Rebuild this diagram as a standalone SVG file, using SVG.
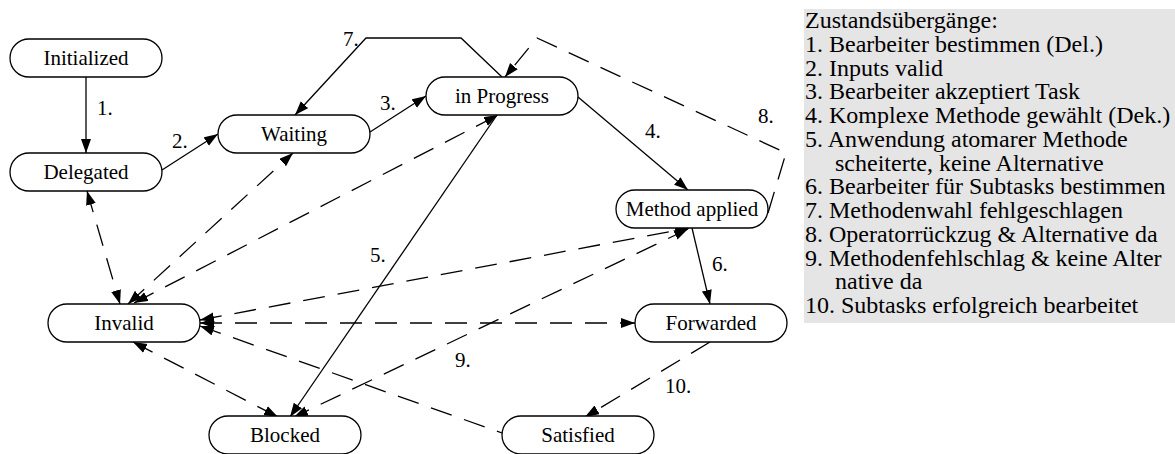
<svg xmlns="http://www.w3.org/2000/svg" width="1175" height="454" viewBox="0 0 1175 454">
  <style>
    text { font-family: 'Liberation Serif', 'DejaVu Serif', serif; fill: #000000; }
    .node rect { fill: #ffffff; stroke: #000000; stroke-width: 1.3; }
    .node text { font-size: 21px; text-anchor: middle; }
    .edge { fill: none; stroke: #000000; stroke-width: 1.3; }
    .solid { marker-end: url(#arrow); }
    .dashed { stroke-dasharray: 22 13; }
    .elabel { font-size: 21px; }
    .legend text { font-size: 24px; }
  </style>
  <defs>
    <marker id="arrow" markerUnits="userSpaceOnUse" markerWidth="15" markerHeight="11" refX="14" refY="5" orient="auto-start-reverse">
      <path d="M0,0 L14,5 L0,10 z" fill="#000000"/>
    </marker>
  </defs>

  <rect x="0" y="0" width="1175" height="454" fill="#ffffff"/>

  <!-- transitions -->
  <g id="connectors">
    <!-- solid transitions -->
    <path class="edge solid" d="M86,77 L86,153"/>
    <path class="edge solid" d="M162,170 L218,134"/>
    <path class="edge solid" d="M370,132 L426,96"/>
    <path class="edge solid" d="M502,77 L461,38 L366,38 L295,115"/>
    <path class="edge solid" d="M578,97 L688,190"/>
    <path class="edge solid" d="M692,228 L710,304"/>
    <path class="edge solid" d="M497,115 L290,417"/>

    <!-- dashed transitions -->
    <path class="edge dashed" d="M87,191 L120,304" marker-start="url(#arrow)" marker-end="url(#arrow)"/>
    <path class="edge dashed" d="M128,304 L293,153" marker-start="url(#arrow)" marker-end="url(#arrow)"/>
    <path class="edge dashed" d="M134,303 L498,115" marker-start="url(#arrow)" marker-end="url(#arrow)"/>
    <path class="edge dashed" d="M200,320 L689,228" marker-start="url(#arrow)" marker-end="url(#arrow)"/>
    <path class="edge dashed" d="M200,323 L635,323" marker-start="url(#arrow)" marker-end="url(#arrow)"/>
    <path class="edge dashed" d="M200,326 L502,433" marker-start="url(#arrow)"/>
    <path class="edge dashed" d="M133,342 L278,417" marker-start="url(#arrow)" marker-end="url(#arrow)"/>
    <path class="edge dashed" d="M688,229 L294,417" marker-start="url(#arrow)" marker-end="url(#arrow)"/>
    <path class="edge dashed" d="M710,342 L585,417" marker-end="url(#arrow)"/>
    <path class="edge dashed" d="M768,213 L786,153 L537,38 L505,77" marker-end="url(#arrow)"/>
  </g>

  <!-- transition numbers -->
  <g id="edge-labels">
    <text class="elabel" x="97" y="115">1.</text>
    <text class="elabel" x="172" y="148">2.</text>
    <text class="elabel" x="380" y="110">3.</text>
    <text class="elabel" x="343" y="46">7.</text>
    <text class="elabel" x="645" y="138">4.</text>
    <text class="elabel" x="758" y="123">8.</text>
    <text class="elabel" x="370" y="262">5.</text>
    <text class="elabel" x="712" y="271">6.</text>
    <text class="elabel" x="455" y="367">9.</text>
    <text class="elabel" x="665" y="393">10.</text>
  </g>

  <!-- states -->
  <g id="initialized" class="node">
    <rect x="10" y="39" width="152" height="38" rx="19" ry="19"/>
    <text x="86" y="65">Initialized</text>
  </g>
  <g id="delegated" class="node">
    <rect x="10" y="153" width="152" height="38" rx="19" ry="19"/>
    <text x="86" y="179">Delegated</text>
  </g>
  <g id="waiting" class="node">
    <rect x="218" y="115" width="152" height="38" rx="19" ry="19"/>
    <text x="294" y="141">Waiting</text>
  </g>
  <g id="in-progress" class="node">
    <rect x="426" y="77" width="152" height="38" rx="19" ry="19"/>
    <text x="502" y="103">in Progress</text>
  </g>
  <g id="method-applied" class="node">
    <rect x="616" y="190" width="152" height="38" rx="19" ry="19"/>
    <text x="692" y="216">Method applied</text>
  </g>
  <g id="invalid" class="node">
    <rect x="48" y="304" width="152" height="38" rx="19" ry="19"/>
    <text x="124" y="330">Invalid</text>
  </g>
  <g id="forwarded" class="node">
    <rect x="635" y="304" width="152" height="38" rx="19" ry="19"/>
    <text x="711" y="330">Forwarded</text>
  </g>
  <g id="blocked" class="node">
    <rect x="209" y="416" width="152" height="38" rx="19" ry="19"/>
    <text x="285" y="442">Blocked</text>
  </g>
  <g id="satisfied" class="node">
    <rect x="502" y="416" width="152" height="38" rx="19" ry="19"/>
    <text x="578" y="442">Satisfied</text>
  </g>

  <!-- legend of transitions -->
  <g id="legend" class="legend">
    <rect x="804" y="9" width="371" height="314" fill="#e5e5e5"/>
    <text x="805" y="28">Zustandsübergänge:</text>
    <text x="805" y="51.75">1. Bearbeiter bestimmen (Del.)</text>
    <text x="805" y="75.5">2. Inputs valid</text>
    <text x="805" y="99.25">3. Bearbeiter akzeptiert Task</text>
    <text x="805" y="123">4. Komplexe Methode gewählt (Dek.)</text>
    <text x="805" y="146.75">5. Anwendung atomarer Methode</text>
    <text x="835" y="170.5">scheiterte, keine Alternative</text>
    <text x="805" y="194.25">6. Bearbeiter für Subtasks bestimmen</text>
    <text x="805" y="218">7. Methodenwahl fehlgeschlagen</text>
    <text x="805" y="241.75">8. Operatorrückzug &amp; Alternative da</text>
    <text x="805" y="265.5">9. Methodenfehlschlag &amp; keine Alter</text>
    <text x="835" y="289.25">native da</text>
    <text x="805" y="313">10. Subtasks erfolgreich bearbeitet</text>
  </g>
</svg>
